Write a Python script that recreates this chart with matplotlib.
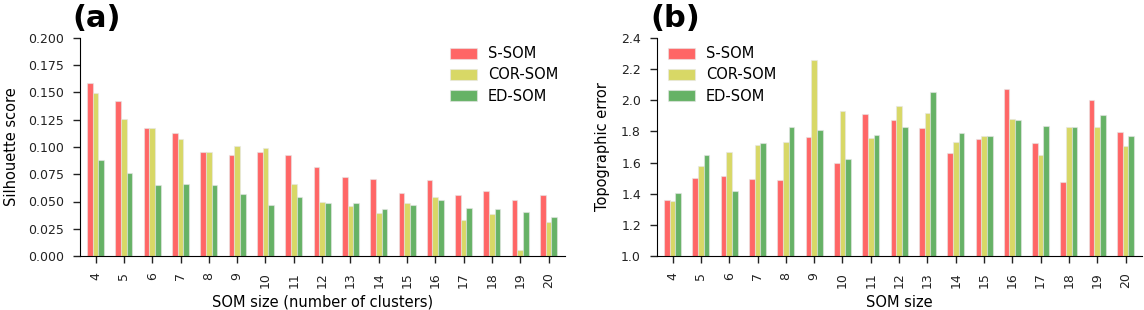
import matplotlib
matplotlib.use("Agg")
import matplotlib.pyplot as plt
import numpy as np

som_sizes = ["4", "5", "6", "7", "8", "9", "10", "11", "12", "13", "14", "15", "16", "17", "18", "19", "20"]
series_names = ["S-SOM", "COR-SOM", "ED-SOM"]

sil_s = [0.159, 0.142, 0.1175, 0.113, 0.0957, 0.093, 0.095, 0.093, 0.082, 0.0725, 0.071, 0.0575, 0.070, 0.0563, 0.060, 0.0517, 0.0563]
sil_cor = [0.150, 0.126, 0.117, 0.107, 0.0957, 0.101, 0.099, 0.0665, 0.050, 0.0459, 0.039, 0.049, 0.054, 0.033, 0.0385, 0.0058, 0.031]
sil_ed = [0.088, 0.0765, 0.0655, 0.0665, 0.065, 0.057, 0.0465, 0.054, 0.0486, 0.049, 0.043, 0.0465, 0.0517, 0.0437, 0.043, 0.0407, 0.036]

topo_s = [1.362, 1.503, 1.514, 1.497, 1.49, 1.766, 1.60, 1.914, 1.871, 1.822, 1.662, 1.749, 2.07, 1.724, 1.475, 2.004, 1.796]
topo_cor = [1.355, 1.58, 1.668, 1.713, 1.734, 2.259, 1.934, 1.756, 1.965, 1.916, 1.734, 1.77, 1.88, 1.647, 1.827, 1.827, 1.704]
topo_ed = [1.403, 1.651, 1.42, 1.728, 1.826, 1.807, 1.625, 1.78, 1.826, 2.055, 1.79, 1.77, 1.875, 1.837, 1.831, 1.906, 1.771]

colors = ["r", "y", "g"]

W, H = 1144, 310
fig = plt.figure(figsize=(W / 100, H / 100), dpi=100)

def px(l, r, b, t):
    return [l / W, (H - b) / H, (r - l) / W, (b - t) / H]

ax1 = fig.add_axes(px(80, 565, 256, 38))
ax2 = fig.add_axes(px(657, 1142, 256, 38))

x = np.arange(len(som_sizes))
bw = 0.2

def draw(ax, data, ylim, yticks, ylabel, xlabel, yfmt, leg_anchor, ylab_x):
    for i, (vals, c, name) in enumerate(zip(data, colors, series_names)):
        ax.bar(x + (i - 1) * bw, vals, bw, color=c, alpha=0.6, edgecolor="#e6e6e6",
               linewidth=0.8, label=name)
    ax.set_ylim(*ylim)
    ax.set_xlim(-0.55, 16.58)
    ax.set_xticks(x)
    ax.set_xticklabels(som_sizes, rotation=90, fontsize=9)
    ax.set_yticks(yticks)
    ax.set_yticklabels([yfmt.format(v) for v in yticks], fontsize=9)
    ax.set_ylabel(ylabel, fontsize=10.5)
    ax.set_xlabel(xlabel, fontsize=10.5)
    ax.yaxis.set_label_coords(ylab_x, 0.5)
    ax.xaxis.set_label_coords(0.5, -0.178)
    for s in ["top", "right"]:
        ax.spines[s].set_visible(False)
    ax.tick_params(direction="out", length=5, width=1, pad=6.5,
                   colors="#222222", labelcolor="#222222")
    ax.legend(loc="upper left", bbox_to_anchor=leg_anchor, frameon=False, fontsize=10.5,
              handlelength=1.85, handleheight=0.8, handletextpad=0.75, labelspacing=0.42,
              borderpad=0, borderaxespad=0)

draw(ax1, [sil_s, sil_cor, sil_ed], (0, 0.2), np.arange(0, 0.2001, 0.025),
     "Silhouette score", "SOM size (number of clusters)", "{:.3f}",
     (0.763, 0.962), -0.126)
draw(ax2, [topo_s, topo_cor, topo_ed], (1.0, 2.4), np.arange(1.0, 2.4001, 0.2),
     "Topographic error", "SOM size", "{:.1f}",
     (0.0227, 0.962), -0.0965)

fig.text(72 / W, 1 - 27 / H, "(a)", fontsize=22, fontweight="bold")
fig.text(650 / W, 1 - 27 / H, "(b)", fontsize=22, fontweight="bold")

fig.savefig("out.png", dpi=100)
